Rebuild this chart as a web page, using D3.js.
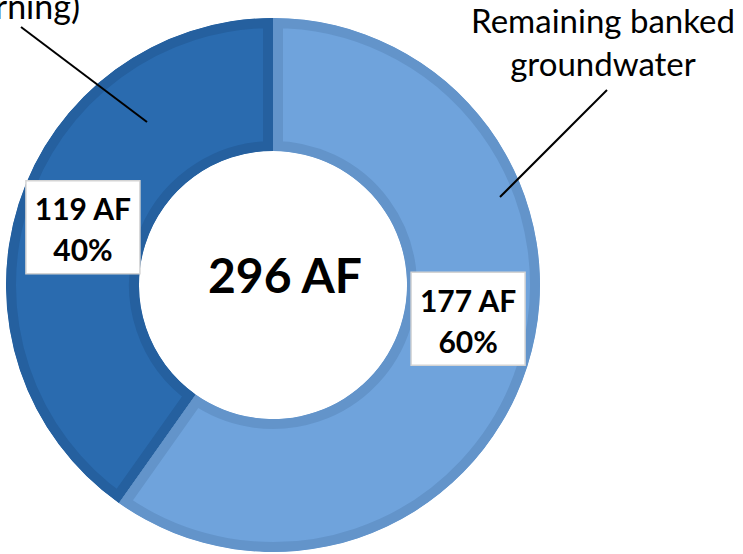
<!DOCTYPE html>
<html>
<head>
<meta charset="utf-8">
<script src="https://cdn.jsdelivr.net/npm/d3@7"></script>
<style>
  html, body { margin: 0; padding: 0; background: #fff; }
  svg { display: block; }
  text { font-family: Lato, "Open Sans", sans-serif; fill: #000; }
</style>
</head>
<body>
<svg id="chart" width="743" height="554"></svg>
<script>
// Banked groundwater split (acre-feet)
const categories = ["Remaining banked groundwater", "(returning)"];
const values = [177, 119];
const valueLabels = ["177 AF", "119 AF"];
const percentLabels = ["60%", "40%"];
const totalLabel = "296 AF";
const fills = ["#6fa3dc", "#2a6baf"];
const borders = ["#6394ca", "#25609f"];

const svg = d3.select("#chart");
const cx = 273, cy = 285;
const outerR = 267, innerR = 134;
const band = 10;

const pie = d3.pie().sort(null).value(d => d)(values);
const arc = d3.arc().innerRadius(innerR).outerRadius(outerR);

const g = svg.append("g").attr("transform", `translate(${cx},${cy})`);
const defs = svg.append("defs");

// Each slice: flat fill plus a darker inner border band
pie.forEach((p, i) => {
  const id = "slice-clip-" + i;
  defs.append("clipPath").attr("id", id)
    .append("path").attr("d", arc(p));
  g.append("path")
    .attr("d", arc(p))
    .attr("fill", fills[i])
    .attr("stroke", borders[i])
    .attr("stroke-width", band * 2)
    .attr("stroke-linejoin", "miter")
    .attr("clip-path", `url(#${id})`);
});

// Total in the hole
g.append("text")
  .attr("x", 12).attr("y", 8)
  .attr("text-anchor", "middle")
  .style("font-size", "48px")
  .style("font-weight", "bold")
  .text(totalLabel);

// Value / percent boxes near each slice middle
const labelArc = d3.arc().innerRadius((innerR + outerR) / 2).outerRadius((innerR + outerR) / 2);
const boxOffsets = [[4, -27], [1, 3]];
pie.forEach((p, i) => {
  const [x, y] = labelArc.centroid(p);
  const bx = x + boxOffsets[i][0], by = y + boxOffsets[i][1];
  const bw = 114, bh = 93;
  const lg = g.append("g").attr("transform", `translate(${bx},${by})`);
  lg.append("rect")
    .attr("x", -bw / 2).attr("y", -bh / 2)
    .attr("width", bw).attr("height", bh)
    .attr("fill", "#fff")
    .attr("stroke", "#d4d4d4")
    .attr("stroke-width", 1.5);
  lg.append("text").attr("text-anchor", "middle").attr("y", -7)
    .style("font-size", "30px").style("font-weight", "bold")
    .text(valueLabels[i]);
  lg.append("text").attr("text-anchor", "middle").attr("y", 34)
    .style("font-size", "30px").style("font-weight", "bold")
    .text(percentLabels[i]);
});

// Category callouts with leader lines
const callout = svg.append("g");
const right = callout.append("text")
  .attr("text-anchor", "middle")
  .style("font-size", "33px");
right.append("tspan").attr("x", 603).attr("y", 33).text("Remaining banked");
right.append("tspan").attr("x", 603).attr("y", 76).text("groundwater");

callout.append("text")
  .attr("text-anchor", "end")
  .attr("x", 80).attr("y", 19)
  .style("font-size", "34px")
  .text(categories[1]);

callout.append("line")
  .attr("x1", 607).attr("y1", 90).attr("x2", 500).attr("y2", 197)
  .attr("stroke", "#000").attr("stroke-width", 2);
callout.append("line")
  .attr("x1", 21).attr("y1", 27).attr("x2", 147).attr("y2", 122)
  .attr("stroke", "#000").attr("stroke-width", 2);
</script>
</body>
</html>
